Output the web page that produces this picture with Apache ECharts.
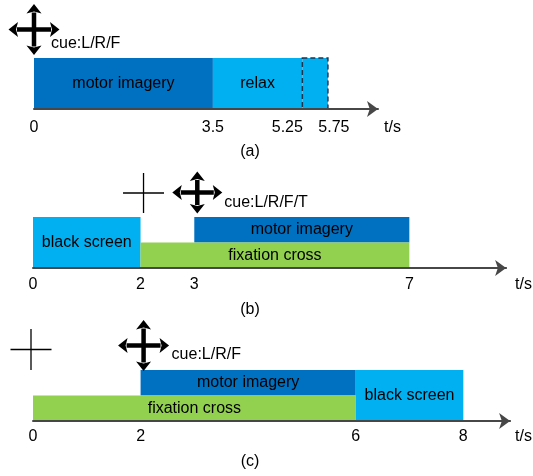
<!DOCTYPE html>
<html>
<head>
<meta charset="utf-8">
<script src="https://cdn.jsdelivr.net/npm/echarts@6/dist/echarts.min.js"></script>
<style>
  html, body { margin: 0; padding: 0; background: #fff; }
  #chart { width: 533px; height: 476px; }
</style>
</head>
<body>
<div id="chart"></div>
<script>
const FONT = '"Liberation Sans", Arial, sans-serif';

// Tick values on each time axis (seconds)
const ticksA = [0, 3.5, 5.25, 5.75];
const ticksB = [0, 2, 3, 7];
const ticksC = [0, 2, 6, 8];

// Trial phases: [label, start (s), end (s), lane, kind]
const phasesA = [
  ['motor imagery', 0, 3.5, 'full', 'imagery'],
  ['relax', 3.5, 5.25, 'full', 'rest'],
  ['', 5.25, 5.75, 'full', 'jitter']
];
const phasesB = [
  ['black screen', 0, 2, 'full', 'screen'],
  ['motor imagery', 3, 7, 'upper', 'imagery'],
  ['fixation cross', 2, 7, 'lower', 'fixation']
];
const phasesC = [
  ['motor imagery', 2, 6, 'upper', 'imagery'],
  ['fixation cross', 0, 6, 'lower', 'fixation'],
  ['black screen', 6, 8, 'full', 'screen']
];

// On-screen cues: [time (s), symbol, caption]
const cuesA = [[0, 'arrows', 'cue:L/R/F']];
const cuesB = [[2, 'plus', ''], [3, 'arrows', 'cue:L/R/F/T']];
const cuesC = [[0, 'plus', ''], [2, 'arrows', 'cue:L/R/F']];

const panelTitles = ['(a)', '(b)', '(c)'];

// ---- styling ----
const COLORS = {
  imagery: '#0070C0',
  rest: '#00B0F0',
  screen: '#00B0F0',
  jitter: '#00B0F0',
  fixation: '#92D050'
};
const LANES = { full: [0, 1], upper: [0.5, 1], lower: [0, 0.5] };

// Per-panel layout
const panels = [
  {
    phases: phasesA, cues: cuesA, ticks: ticksA,
    grid: { left: 34, top: 58, width: 344, height: 51 }, max: 6.73,
    margin: 11, nameGap: 6, titleY: 152,
    arrows: { w: 51, h: 51, lift: 28.5, cap: [17, 14] },
    plus: { w: 41, h: 41, lift: 24 },
    nudge: { 5.25: 'l', 5.75: 'r' }
  },
  {
    phases: phasesB, cues: cuesB, ticks: ticksB,
    grid: { left: 33, top: 217, width: 475, height: 51 }, max: 8.8,
    margin: 9, nameGap: 9, titleY: 310,
    arrows: { w: 50, h: 42, lift: 24.5, cap: [27, 10.5], dx: 3 },
    plus: { w: 41, h: 40, lift: 24, dx: 3 },
    nudge: {}
  },
  {
    phases: phasesC, cues: cuesC, ticks: ticksC,
    grid: { left: 33, top: 370, width: 479, height: 51 }, max: 8.87,
    margin: 8, nameGap: 5, titleY: 462,
    arrows: { w: 51, h: 51, lift: 24.5, cap: [28, 9.5], dx: 3 },
    plus: { w: 41, h: 41, lift: 20.5, dx: -2 },
    nudge: {}
  }
];

function phaseRenderer(phases) {
  return function (params, api) {
    const p = phases[params.dataIndex];
    const lane = LANES[p[3]];
    const tl = api.coord([p[1], lane[1]]);
    const br = api.coord([p[2], lane[0]]);
    const dashed = p[4] === 'jitter';
    return {
      type: 'rect',
      shape: { x: tl[0], y: tl[1], width: br[0] - tl[0], height: br[1] - tl[1] },
      style: dashed
        ? { fill: COLORS[p[4]], stroke: '#1c3550', lineWidth: 1.5, lineDash: [5, 3] }
        : { fill: COLORS[p[4]] },
      textContent: {
        style: { text: p[0], font: '16px ' + FONT, fill: '#000' }
      },
      textConfig: { position: 'inside' }
    };
  };
}

// Bold four-way arrow symbol
function arrowCross(cx, cy, w, h) {
  const head = 9.5, half = 7.5, notch = 2, lw = 4.5;
  const l = cx - w / 2, r = cx + w / 2, t = cy - h / 2, b = cy + h / 2;
  const black = { fill: '#000' };
  return [
    { type: 'line', shape: { x1: l + head - 1, y1: cy, x2: r - head + 1, y2: cy }, style: { stroke: '#000', lineWidth: lw } },
    { type: 'line', shape: { x1: cx, y1: t + head - 1, x2: cx, y2: b - head + 1 }, style: { stroke: '#000', lineWidth: lw } },
    { type: 'polygon', shape: { points: [[l, cy], [l + head, cy - half], [l + head - notch, cy], [l + head, cy + half]] }, style: black },
    { type: 'polygon', shape: { points: [[r, cy], [r - head, cy - half], [r - head + notch, cy], [r - head, cy + half]] }, style: black },
    { type: 'polygon', shape: { points: [[cx, t], [cx - half, t + head], [cx, t + head - notch], [cx + half, t + head]] }, style: black },
    { type: 'polygon', shape: { points: [[cx, b], [cx - half, b - head], [cx, b - head + notch], [cx + half, b - head]] }, style: black }
  ];
}

// Thin fixation cross symbol
function plusCross(cx, cy, w, h) {
  const st = { stroke: '#000', lineWidth: 1.3 };
  return [
    { type: 'line', shape: { x1: cx - w / 2, y1: cy, x2: cx + w / 2, y2: cy }, style: st },
    { type: 'line', shape: { x1: cx, y1: cy - h / 2, x2: cx, y2: cy + h / 2 }, style: st }
  ];
}

function cueRenderer(panel) {
  return function (params, api) {
    const c = panel.cues[params.dataIndex];
    const top = api.coord([c[0], 1]);
    if (c[1] === 'plus') {
      const s = panel.plus;
      return { type: 'group', children: plusCross(top[0] + (s.dx || 0), top[1] - s.lift, s.w, s.h) };
    }
    const s = panel.arrows;
    const cx = top[0] + (s.dx || 0), cy = top[1] - s.lift;
    const children = arrowCross(cx, cy, s.w, s.h);
    if (c[2]) {
      children.push({
        type: 'text',
        x: cx + s.cap[0], y: cy + s.cap[1],
        style: { text: c[2], font: '16px ' + FONT, fill: '#000', align: 'left', verticalAlign: 'middle' }
      });
    }
    return { type: 'group', children: children };
  };
}

const option = {
  animation: false,
  backgroundColor: '#fff',
  grid: panels.map(p => Object.assign({ containLabel: false }, p.grid)),
  xAxis: panels.map((p, i) => ({
    gridIndex: i,
    type: 'value',
    min: 0,
    max: p.max,
    z: 5,
    axisLine: {
      show: true,
      onZero: false,
      lineStyle: { color: '#474747', width: 2 },
      symbol: ['none', 'arrow'],
      symbolSize: [12, 11]
    },
    axisTick: { show: false },
    splitLine: { show: false },
    axisLabel: {
      customValues: p.ticks,
      margin: p.margin,
      fontSize: 16,
      fontFamily: FONT,
      color: '#000',
      formatter: v => (p.nudge[v] ? '{' + p.nudge[v] + '|' + v + '}' : String(v)),
      rich: {
        l: { fontSize: 16, fontFamily: FONT, color: '#000', padding: [0, 30, 0, 0] },
        r: { fontSize: 16, fontFamily: FONT, color: '#000', padding: [0, 0, 0, 12] }
      }
    },
    name: 't/s',
    nameLocation: 'end',
    nameGap: p.nameGap,
    nameTextStyle: {
      fontSize: 16, fontFamily: FONT, color: '#000',
      align: 'left', verticalAlign: 'top', lineHeight: 16,
      padding: [p.margin, 0, 0, 0]
    }
  })),
  yAxis: panels.map((p, i) => ({ gridIndex: i, type: 'value', min: 0, max: 1, show: false })),
  series: [].concat(
    panels.map((p, i) => ({
      type: 'custom',
      xAxisIndex: i, yAxisIndex: i,
      clip: false,
      renderItem: phaseRenderer(p.phases),
      encode: { x: [0, 1] },
      data: p.phases.map(ph => [ph[1], ph[2]])
    })),
    panels.map((p, i) => ({
      type: 'custom',
      xAxisIndex: i, yAxisIndex: i,
      clip: false,
      z: 6,
      renderItem: cueRenderer(p),
      encode: { x: 0 },
      data: p.cues.map(c => [c[0]])
    }))
  ),
  graphic: panels.map((p, i) => ({
    type: 'text',
    x: 250, y: p.titleY,
    style: { text: panelTitles[i], font: '16px ' + FONT, fill: '#000', align: 'center', verticalAlign: 'middle' }
  }))
};

const chart = echarts.init(document.getElementById('chart'), null, { renderer: 'canvas' });
chart.setOption(option);
</script>
</body>
</html>
